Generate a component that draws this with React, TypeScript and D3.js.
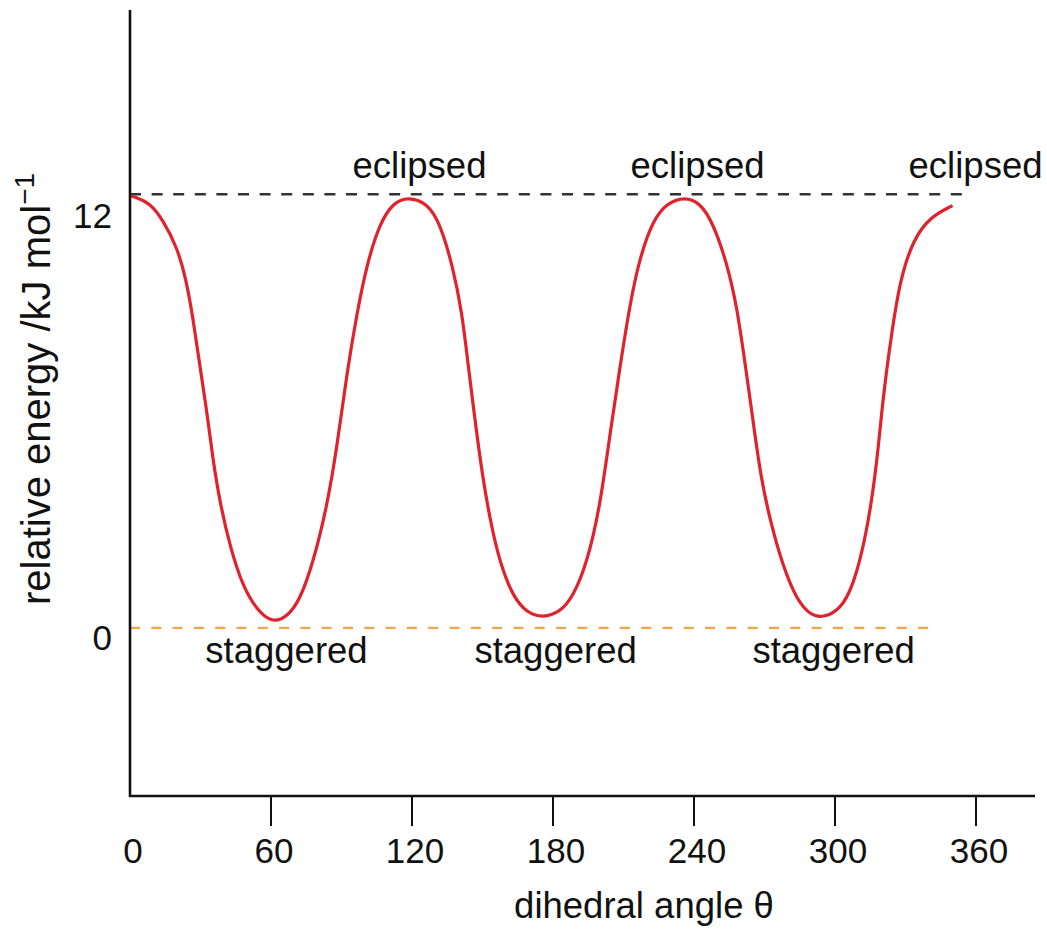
import React, { useEffect, useRef } from "react";
import * as d3 from "d3";

// curve: dihedral angle (deg) -> relative energy (kJ/mol)
const angles = [
  0.5, 2, 8.5, 14, 20, 23.8, 26.8, 29.8, 32.8, 35.3, 38.3, 42.6, 48.1, 54, 60.4,
  66.8, 72.3, 77.9, 83.8, 88.1, 92.3, 96.6, 100.9, 106.4, 111.9, 118.3, 126.4,
  131.9, 137.4, 141.3, 143.8, 146.8, 149.8, 153.2, 157.4, 163, 168.9, 175.7,
  183, 188.5, 194.5, 200, 204.3, 208.5, 212.8, 217, 222.6, 228.5, 236.2, 242.6,
  248.1, 254, 258.3, 261.7, 264.7, 268.1, 272.3, 277.9, 283.8, 289.4, 294.9,
  302.1, 307.7, 313.6, 317.9, 320.4, 324.3, 327.7, 333.2, 340.4, 349.8, 350
];
const energies = [
  11.95, 11.93, 11.76, 11.29, 10.54, 9.68, 8.58, 7.22, 5.95, 4.65, 3.46, 2.24,
  1.13, 0.5, 0.14, 0.3, 0.77, 1.8, 3.35, 5.01, 7.06, 8.72, 10.1, 11.21, 11.76,
  11.93, 11.76, 11.21, 9.99, 8.72, 7.33, 5.76, 4.29, 2.99, 1.8, 0.86, 0.42, 0.28,
  0.44, 0.86, 1.8, 3.35, 5.4, 7.22, 8.99, 10.27, 11.29, 11.76, 11.93, 11.76,
  11.21, 10.1, 8.88, 7.33, 5.95, 4.29, 2.99, 1.69, 0.77, 0.36, 0.28, 0.5, 1.13,
  2.63, 4.57, 6.39, 8.25, 9.63, 10.74, 11.37, 11.68, 11.69
];

const xTicks = [0, 60, 120, 180, 240, 300, 360];
const yTicks = [0, 12];

// dashed reference levels
const eclipsedLevel = 12;
const staggeredLevel = 0;
const eclipsedLineEnd = 358;
const staggeredLineEnd = 342;

const eclipsedLabelAt = [123.2, 241.5, 359.8];
const staggeredLabelAt = [66.6, 181.1, 299.4];

const W = 1047;
const H = 929;
const FONT = "'Liberation Sans', Arial, Helvetica, sans-serif";

const App = () => {
  const ref = useRef<SVGSVGElement | null>(null);

  useEffect(() => {
    const svg = d3.select(ref.current);
    svg.selectAll("*").remove();

    const x = d3.scaleLinear().domain([0, 360]).range([130, 976]);
    const y = d3.scaleLinear().domain([-4.65, 17.1]).range([796, 10]);

    const g = svg.append("g").style("font-family", FONT).style("fill", "#111");

    // reference lines
    g.append("line")
      .attr("x1", x(0))
      .attr("x2", x(eclipsedLineEnd))
      .attr("y1", y(eclipsedLevel))
      .attr("y2", y(eclipsedLevel))
      .attr("stroke", "#333")
      .attr("stroke-width", 2.5)
      .attr("stroke-dasharray", "11,10.6");

    g.append("line")
      .attr("x1", x(0))
      .attr("x2", x(staggeredLineEnd))
      .attr("y1", y(staggeredLevel))
      .attr("y2", y(staggeredLevel))
      .attr("stroke", "#f0a546")
      .attr("stroke-width", 2.2)
      .attr("stroke-dasharray", "10,11.3");

    // energy curve
    const line = d3
      .line<number>()
      .x((d, i) => x(angles[i]))
      .y(d => y(d))
      .curve(d3.curveBasis);

    g.append("path")
      .attr("d", line(energies))
      .attr("fill", "none")
      .attr("stroke", "#e0222d")
      .attr("stroke-width", 3.2)
      .attr("stroke-linecap", "butt");

    // axes
    g.append("line")
      .attr("x1", 130)
      .attr("x2", 130)
      .attr("y1", y(17.1))
      .attr("y2", y(-4.65) + 1)
      .attr("stroke", "#111")
      .attr("stroke-width", 2.6);

    g.append("line")
      .attr("x1", 129)
      .attr("x2", 1035)
      .attr("y1", y(-4.65))
      .attr("y2", y(-4.65))
      .attr("stroke", "#111")
      .attr("stroke-width", 2.6);

    g.append("g")
      .selectAll("line")
      .data(xTicks.filter(d => d > 0))
      .join("line")
      .attr("x1", d => x(d))
      .attr("x2", d => x(d))
      .attr("y1", y(-4.65))
      .attr("y2", y(-4.65) + 30)
      .attr("stroke", "#111")
      .attr("stroke-width", 2);

    g.append("g")
      .selectAll("text")
      .data(xTicks)
      .join("text")
      .attr("x", d => x(d) + 3)
      .attr("y", 863)
      .attr("text-anchor", "middle")
      .attr("font-size", 35)
      .text(d => d);

    const yNudge: Record<number, number> = { 0: 22, 12: 34 };
    g.append("g")
      .selectAll("text")
      .data(yTicks)
      .join("text")
      .attr("x", 112)
      .attr("y", d => y(d) + yNudge[d])
      .attr("text-anchor", "end")
      .attr("font-size", 35)
      .text(d => d);

    // annotations
    g.append("g")
      .selectAll("text")
      .data(eclipsedLabelAt)
      .join("text")
      .attr("x", d => x(d))
      .attr("y", y(eclipsedLevel) - 16)
      .attr("text-anchor", "middle")
      .attr("font-size", 36.5)
      .text("eclipsed");

    g.append("g")
      .selectAll("text")
      .data(staggeredLabelAt)
      .join("text")
      .attr("x", d => x(d))
      .attr("y", y(staggeredLevel) + 35)
      .attr("text-anchor", "middle")
      .attr("font-size", 36.5)
      .text("staggered");

    // axis titles
    g.append("text")
      .attr("x", 644)
      .attr("y", 918)
      .attr("text-anchor", "middle")
      .attr("font-size", 36.5)
      .text("dihedral angle θ");

    const yt = g
      .append("text")
      .attr("transform", "translate(50,605) rotate(-90)")
      .attr("text-anchor", "start")
      .attr("font-size", 40);
    yt.append("tspan").text("relative energy /kJ mol");
    yt.append("tspan")
      .attr("dy", -16)
      .attr("font-size", 28)
      .text("−1");
  }, []);

  return (
    <svg
      ref={ref}
      width={W}
      height={H}
      style={{ position: "absolute", left: 0, top: 0, background: "#fff" }}
    />
  );
};

export default App;
